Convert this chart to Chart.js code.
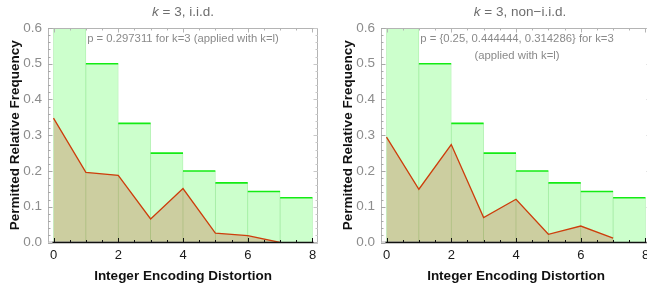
<!DOCTYPE html>
<html>
<head>
<meta charset="utf-8">
<script src="https://cdn.jsdelivr.net/npm/chart.js@4.4.1/dist/chart.umd.min.js"></script>
<style>
  html, body { margin:0; padding:0; background:#fff; overflow:hidden; width:647px; height:290px; }
  .wrap { position:absolute; top:0; width:333px; height:290px; }
  canvas { display:block; }
</style>
</head>
<body>
<div class="wrap" style="left:0"><canvas id="c1" width="333" height="290"></canvas></div>
<div class="wrap" style="left:333px"><canvas id="c2" width="333" height="290"></canvas></div>
<script>
// ---- data ----
const binLeftEdges = [0, 1, 2, 3, 4, 5, 6, 7];
const permittedFreq = [1.0, 0.5, 0.333333, 0.25, 0.2, 0.166667, 0.142857, 0.125];
const distortion = [0, 1, 2, 3, 4, 5, 6, 7];
const iidFreq = [0.348, 0.196, 0.188, 0.066, 0.151, 0.026, 0.019, 0.0];
const nonIidFreq = [0.295, 0.149, 0.274, 0.070, 0.121, 0.023, 0.046, 0.012];
const xTickValues = [0, 2, 4, 6, 8];
const yTickValues = [0, 0.1, 0.2, 0.3, 0.4, 0.5, 0.6];
const titleLeft = ["k", " = 3, i.i.d."];
const titleRight = ["k", " = 3, non\u2212i.i.d."];
const noteLeft = ["p = 0.297311 for k=3 (applied with k=l)"];
const noteRight = ["p = {0.25, 0.444444, 0.314286} for k=3", "(applied with k=l)"];

const FONT = "'Liberation Sans', Arial, Helvetica, sans-serif";

const framePlugin = {
  id: 'frameTicks',
  afterDatasetsDraw(chart) {
    const { ctx, chartArea: a, scales: { x, y } } = chart;
    ctx.save();
    ctx.strokeStyle = '#b4b4b4';
    ctx.lineWidth = 1;
    ctx.beginPath();
    ctx.moveTo(a.left + 0.5, a.bottom);
    ctx.lineTo(a.left + 0.5, a.top + 0.5);
    ctx.lineTo(a.right - 0.5, a.top + 0.5);
    ctx.lineTo(a.right - 0.5, a.bottom);
    ctx.lineTo(a.left, a.bottom - 0.5);
    ctx.stroke();
    for (let i = 0; i <= 16; i++) {
      const v = i * 0.5;
      const px = Math.round(x.getPixelForValue(v)) + 0.5;
      const major = (i % 4 === 0);
      const len = major ? 4.5 : 2.5;
      ctx.strokeStyle = '#111';
      ctx.beginPath(); ctx.moveTo(px, a.bottom); ctx.lineTo(px, a.bottom - len); ctx.stroke();
      ctx.strokeStyle = '#b4b4b4';
      ctx.beginPath(); ctx.moveTo(px, a.top); ctx.lineTo(px, a.top + len); ctx.stroke();
    }
    for (let i = 0; i <= 30; i++) {
      const v = i * 0.02;
      const py = Math.round(y.getPixelForValue(v)) + 0.5;
      const major = (i % 5 === 0);
      const len = major ? 4.5 : 2.5;
      ctx.strokeStyle = '#a8a8a8';
      ctx.beginPath(); ctx.moveTo(a.left, py); ctx.lineTo(a.left + len, py); ctx.stroke();
      ctx.strokeStyle = '#c8c8c8';
      ctx.beginPath(); ctx.moveTo(a.right, py); ctx.lineTo(a.right - len, py); ctx.stroke();
    }
    ctx.strokeStyle = '#111';
    ctx.lineWidth = 1.6;
    const y0 = y.getPixelForValue(0);
    ctx.beginPath();
    ctx.moveTo(x.getPixelForValue(0) - 1, y0);
    ctx.lineTo(x.getPixelForValue(8) + 1, y0);
    ctx.stroke();
    ctx.restore();
  }
};

const textPlugin = {
  id: 'texts',
  afterDraw(chart, args, opts) {
    const { ctx, chartArea: a } = chart;
    ctx.save();
    const mid = (a.left + a.right) / 2;
    const cx = mid + (opts.titleShift || 0);
    const it = 'italic 13.5px ' + FONT, rg = '13.5px ' + FONT;
    ctx.font = it; const w1 = ctx.measureText(opts.title[0]).width;
    ctx.font = rg; const w2 = ctx.measureText(opts.title[1]).width;
    const sx = cx - (w1 + w2) / 2;
    ctx.fillStyle = '#6e6e6e';
    ctx.textBaseline = 'middle';
    ctx.textAlign = 'left';
    ctx.font = it; ctx.fillText(opts.title[0], sx, 12.5);
    ctx.font = rg; ctx.fillText(opts.title[1], sx + w1, 12.5);
    ctx.font = '11.3px ' + FONT;
    ctx.fillStyle = '#8a8a8a';
    ctx.textAlign = 'center';
    opts.note.forEach((line, i) => {
      ctx.fillText(line, mid + (opts.noteShift || 0), 38.5 + i * 17);
    });
    ctx.restore();
  }
};

function makeChart(id, freq, title, note, titleShift, noteShift) {
  const bars = binLeftEdges.map((e, i) => ({ x: e + 0.5, y: permittedFreq[i] }));
  const tops = [];
  binLeftEdges.forEach((e, i) => {
    tops.push({ x: e, y: permittedFreq[i] });
    tops.push({ x: e + 1, y: permittedFreq[i] });
    tops.push({ x: e + 1, y: null });
  });
  const line = distortion.map((d, i) => ({ x: d, y: freq[i] }));
  new Chart(document.getElementById(id), {
    type: 'bar',
    data: {
      datasets: [
        {
          type: 'line', data: line, order: 0,
          borderColor: 'rgb(205,62,12)', borderWidth: 1.3,
          backgroundColor: 'rgba(208,22,0,0.21)', fill: 'origin',
          pointRadius: 0, tension: 0
        },
        {
          type: 'line', data: tops, order: 1,
          borderColor: 'rgb(20,235,20)', borderWidth: 1.6,
          pointRadius: 0, spanGaps: false, fill: false
        },
        {
          type: 'bar', data: bars, order: 2,
          backgroundColor: 'rgb(204,255,204)',
          borderColor: 'rgba(120,228,120,0.6)',
          borderWidth: { left: 0.8, right: 0.8, top: 0, bottom: 0 },
          borderSkipped: false,
          barPercentage: 1, categoryPercentage: 1, grouped: false
        }
      ]
    },
    options: {
      responsive: false,
      animation: false,
      events: [],
      layout: { padding: { top: 28, right: 15, left: 0, bottom: 0 } },
      plugins: {
        legend: { display: false },
        tooltip: { enabled: false },
        texts: { title: title, note: note, titleShift: titleShift, noteShift: noteShift }
      },
      scales: {
        x: {
          type: 'linear', min: -0.17, max: 8.17, offset: false,
          grid: { display: false, drawTicks: false },
          border: { display: false },
          afterBuildTicks: s => { s.ticks = xTickValues.map(v => ({ value: v })); },
          afterFit: s => { s.height = 47.5; },
          ticks: { padding: 5, color: '#1a1a1a', font: { family: FONT, size: 13 }, maxRotation: 0, autoSkip: false },
          title: { display: true, text: 'Integer Encoding Distortion', color: '#111',
                   font: { family: FONT, size: 13.5, weight: 'bold' }, padding: { top: 0, bottom: 6 } }
        },
        y: {
          type: 'linear', min: 0, max: 0.6,
          grid: { display: false, drawTicks: false },
          border: { display: false },
          afterBuildTicks: s => { s.ticks = yTickValues.map(v => ({ value: v })); },
          afterFit: s => { s.width = 48; },
          ticks: { padding: 6, color: '#8c8c8c', font: { family: FONT, size: 13.5 },
                   callback: v => Number(v).toFixed(1) },
          title: { display: true, text: 'Permitted Relative Frequency', color: '#111',
                   font: { family: FONT, size: 13.5, weight: 'bold' }, padding: { top: 7, bottom: 0 } }
        }
      }
    },
    plugins: [framePlugin, textPlugin]
  });
}

makeChart('c1', iidFreq, titleLeft, noteLeft, 0, 0);
makeChart('c2', nonIidFreq, titleRight, noteRight, 4, 1);
</script>
</body>
</html>
